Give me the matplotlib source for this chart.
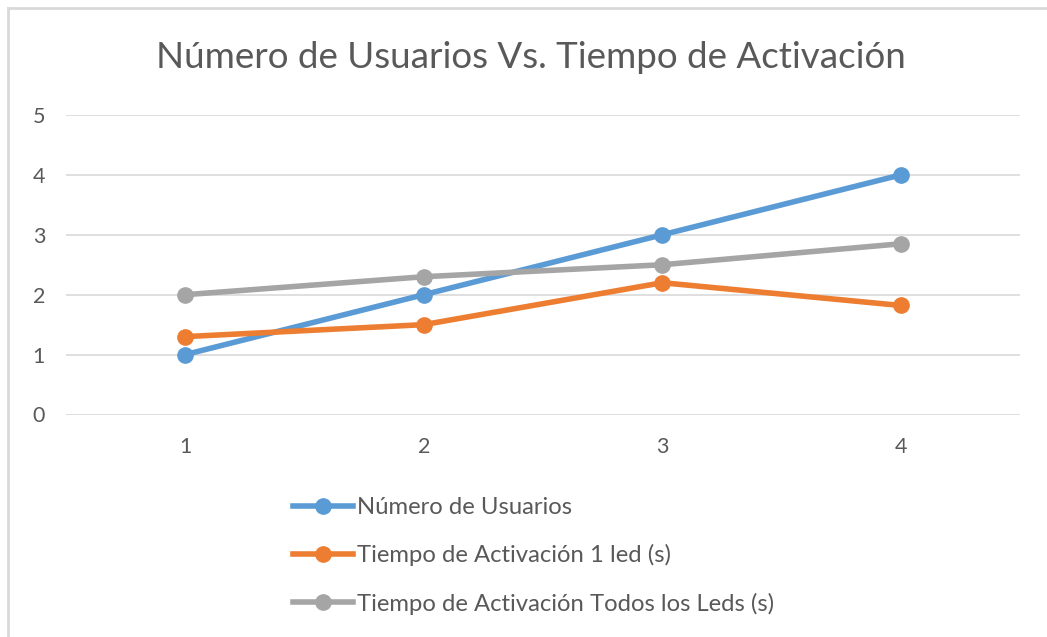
import matplotlib
matplotlib.use("Agg")
import matplotlib.pyplot as plt
from matplotlib.lines import Line2D

categories = ["1", "2", "3", "4"]
usuarios = [1, 2, 3, 4]
tiempo_1led = [1.3, 1.5, 2.2, 1.82]
tiempo_todos = [2.0, 2.3, 2.5, 2.85]
series_names = ["Número de Usuarios", "Tiempo de Activación 1 led (s)",
                "Tiempo de Activación Todos los Leds (s)"]
title = "Número de Usuarios Vs. Tiempo de Activación"
yticks = [0, 1, 2, 3, 4, 5]

colors = ["#5B9BD5", "#ED7D31", "#A5A5A5"]
txt = "#595959"
plt.rcParams['font.family'] = ['Lato', 'DejaVu Sans']

W, H = 1047, 637
fig = plt.figure(figsize=(W / 100, H / 100), dpi=100)
ax = fig.add_axes([66 / W, 1 - 414.5 / H, (1020 - 66) / W, (414.5 - 115) / H])

x = list(range(1, len(categories) + 1))
for vals, c in zip([usuarios, tiempo_1led, tiempo_todos], colors):
    ax.plot(x, vals, color=c, lw=4, marker='o', ms=11, solid_capstyle='round', zorder=3)

ax.set_xlim(0.5, len(categories) + 0.5)
ax.set_ylim(0, 5)
ax.set_yticks(yticks)
ax.set_xticks(x)
ax.set_xticklabels(categories)
ax.grid(axis='y', color='#D9D9D9', lw=1.2)
ax.set_axisbelow(True)
for s in ax.spines.values():
    s.set_visible(False)
ax.tick_params(length=0, labelsize=15.5, colors=txt)
ax.tick_params(axis='y', pad=15)
ax.tick_params(axis='x', pad=16)

fig.text(531 / W, 1 - 58 / H, title, ha='center', va='center', fontsize=26.5, color=txt)

# legend
handles = [Line2D([0], [0], color=c, lw=4, marker='o', ms=11) for c in colors]
leg = fig.legend(handles, series_names, loc='upper left', bbox_to_anchor=(293 / W, 1 - 497 / H),
                 frameon=False, fontsize=17.2, labelcolor=txt, handlelength=2.5,
                 handletextpad=0.17, labelspacing=1.1, borderpad=0, borderaxespad=0)

# chart border (top and left)
fig.add_artist(Line2D([8 / W, 1], [1 - 8 / H, 1 - 8 / H], color='#D9D9D9', lw=2, transform=fig.transFigure))
fig.add_artist(Line2D([8 / W, 8 / W], [0, 1 - 8 / H], color='#D9D9D9', lw=2, transform=fig.transFigure))

fig.savefig("out.png", dpi=100)
